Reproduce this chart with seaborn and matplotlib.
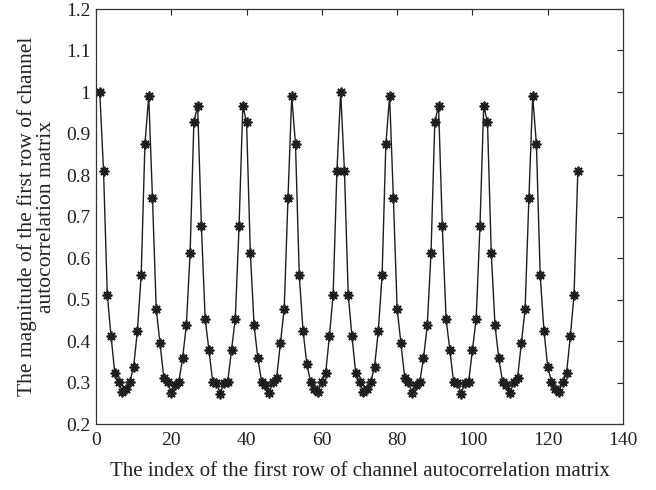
import matplotlib
matplotlib.use("Agg")
import matplotlib.pyplot as plt
import seaborn as sns
import numpy as np
import pandas as pd

index = list(range(1, 129))
magnitude = [
    1.000, 0.810, 0.512, 0.411, 0.322, 0.302, 0.278, 0.284, 0.302, 0.338,
    0.425, 0.558, 0.874, 0.990, 0.744, 0.478, 0.396, 0.312, 0.302, 0.274,
    0.294, 0.302, 0.358, 0.438, 0.612, 0.927, 0.967, 0.676, 0.454, 0.378,
    0.302, 0.300, 0.272, 0.300, 0.302, 0.378, 0.454, 0.676, 0.967, 0.927,
    0.612, 0.438, 0.358, 0.302, 0.294, 0.274, 0.302, 0.312, 0.396, 0.478,
    0.744, 0.990, 0.874, 0.558, 0.425, 0.345, 0.302, 0.284, 0.278, 0.302,
    0.322, 0.411, 0.512, 0.810, 1.000, 0.810, 0.512, 0.411, 0.322, 0.302,
    0.278, 0.284, 0.302, 0.338, 0.425, 0.558, 0.874, 0.990, 0.744, 0.478,
    0.396, 0.312, 0.302, 0.274, 0.294, 0.302, 0.358, 0.438, 0.612, 0.927,
    0.967, 0.676, 0.454, 0.378, 0.302, 0.300, 0.272, 0.300, 0.302, 0.378,
    0.454, 0.676, 0.967, 0.927, 0.612, 0.438, 0.358, 0.302, 0.294, 0.274,
    0.302, 0.312, 0.396, 0.478, 0.744, 0.990, 0.874, 0.558, 0.425, 0.338,
    0.302, 0.284, 0.278, 0.302, 0.322, 0.411, 0.512, 0.810,
]
x_ticks = [0, 20, 40, 60, 80, 100, 120, 140]
y_ticks = [0.2, 0.3, 0.4, 0.5, 0.6, 0.7, 0.8, 0.9, 1.0, 1.1, 1.2]
y_tick_labels = ["0.2", "0.3", "0.4", "0.5", "0.6", "0.7", "0.8", "0.9", "1", "1.1", "1.2"]
xlabel = "The index of the first row of channel autocorrelation matrix"
ylabel = "The magnitude of the first row of channel\nautocorrelation matrix"

sns.set_style("white")
plt.rcParams["font.family"] = ["Liberation Serif", "DejaVu Serif"]

df = pd.DataFrame({"index": index, "magnitude": magnitude})

fig = plt.figure(figsize=(6.56, 4.90), dpi=100)
ax = fig.add_axes([96/656, 1-424/490, (623-96)/656, (424-9)/490])

sns.lineplot(data=df, x="index", y="magnitude", ax=ax, color="#1e1e1e",
             linewidth=1.0, marker=(8, 2, 0), markersize=7,
             markeredgecolor="#1e1e1e", markerfacecolor="#1e1e1e",
             markeredgewidth=1.3)

ax.set_xlim(0, 140)
ax.set_ylim(0.2, 1.2)
ax.set_xticks(x_ticks)
ax.set_yticks(y_ticks)
ax.set_yticklabels(y_tick_labels)
ax.tick_params(direction="in", length=4, width=0.8, top=True, right=True,
               labelsize=14, colors="#222222")
ax.tick_params(axis="y", pad=4)
ax.tick_params(axis="x", pad=6)
for s in ax.spines.values():
    s.set_color("#333333")
    s.set_linewidth(0.9)
ax.set_xlabel(xlabel, fontsize=15, color="#222222", labelpad=9)
ax.set_ylabel(ylabel, fontsize=15.5, color="#222222", labelpad=7, linespacing=1.0)

fig.savefig("out.png", dpi=100)
